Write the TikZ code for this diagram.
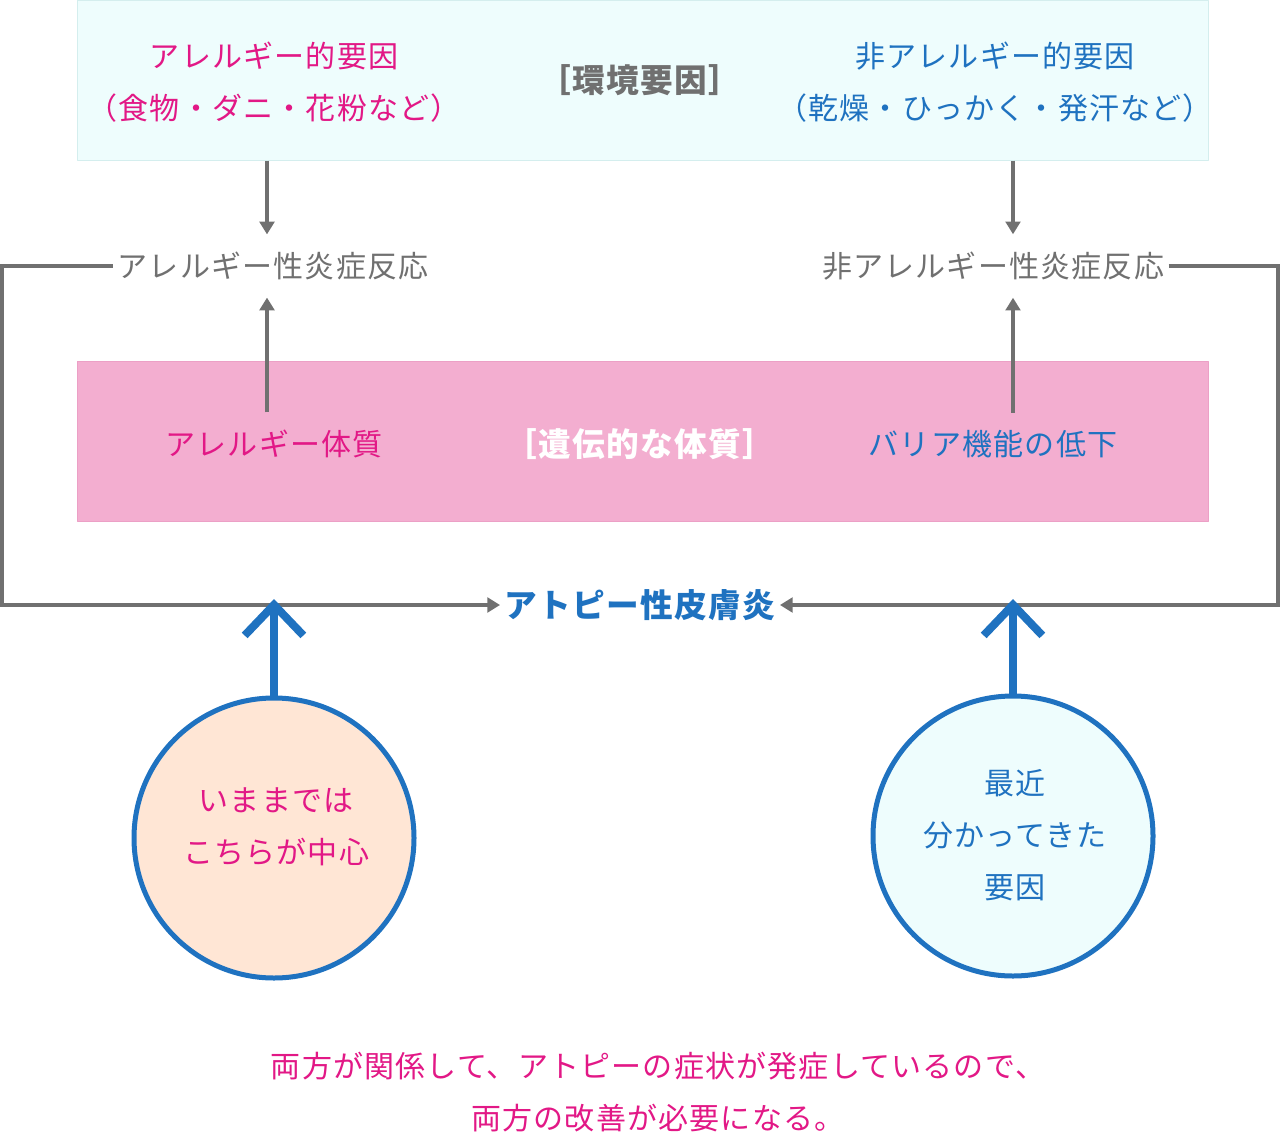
\documentclass[tikz,border=0pt]{standalone}
\usepackage{fontspec}
\setmainfont{Noto Sans CJK JP}[LetterSpace=4]
\usetikzlibrary{arrows.meta}

\definecolor{pinkT}{RGB}{226,24,134}
\definecolor{blueT}{RGB}{31,114,192}
\definecolor{grayT}{RGB}{112,112,112}
\definecolor{pinkbox}{RGB}{243,174,208}
\definecolor{pinkline}{RGB}{236,160,198}
\definecolor{cyanbox}{RGB}{238,253,253}
\definecolor{cyanline}{RGB}{212,238,238}
\definecolor{peach}{RGB}{255,230,213}

\newcommand\normtxt{\fontsize{22.5}{39}\selectfont}
\newcommand\boldtxt{\fontsize{24.5}{30}\selectfont\bfseries}

\begin{document}
\begin{tikzpicture}[
		x=0.75pt, y=-0.75pt,
		line join=round,
		font=\normtxt,
		band/.style={anchor=north west, minimum width=848.25pt, minimum height=120pt, inner sep=0pt},
		midtxt/.style={text=grayT, inner ysep=13pt},
		grayarr/.style={draw=grayT, line width=2.3pt, -{Triangle[length=9.5pt,width=11pt]}},
		bluearr/.style={draw=blueT, line width=6pt, -{Straight Barb[sharp,length=23pt,width=44pt]}},
		circ/.style={circle, draw=blueT, line width=3.75pt, minimum size=210pt, inner sep=0pt}
		]
		
		\useasboundingbox (0,0) rectangle (1280,1137);
		
		% Khung môi trường
		\node[band, fill=cyanbox, draw=cyanline] (envbox) at (77,0) {};
		\node[text=pinkT, align=center] (allergyfac) at (274,82) {アレルギー的要因\\（食物・ダニ・花粉など）};
		\node[text=grayT, font=\boldtxt] (env) at (640,80) {［環境要因］};
		\node[text=blueT, align=center] (nonallergyfac) at (995,82) {非アレルギー的要因\\（乾燥・ひっかく・発汗など）};
		
		% Phản ứng viêm
		\node[midtxt] (allergyinf) at (273,266) {アレルギー性炎症反応};
		\node[midtxt] (nonallergyinf) at (993,266) {非アレルギー性炎症反応};
		
		% Khung di truyền
		\node[band, fill=pinkbox, draw=pinkline] (genebox) at (77,361) {};
		\node[midtxt, text=pinkT] (allergybody) at (274,444) {アレルギー体質};
		\node[text=white, font=\boldtxt] (gene) at (640,444) {［遺伝的な体質］};
		\node[midtxt, text=blueT] (barrier) at (993,444) {バリア機能の低下};
		
		% Bệnh
		\node[text=blueT, font=\boldtxt] (atopy) at (640,605) {アトピー性皮膚炎};
		
		% Hai vòng tròn
		\node[circ, fill=peach] (oldc) at (274,838) {};
		\node[text=pinkT, align=center] (oldtxt) at (276,827) {いままでは\\こちらが中心};
		\node[circ, fill=cyanbox] (newc) at (1013,836) {};
		\node[text=blueT, align=center] (newtxt) at (1015,835) {最近\\分かってきた\\要因};
		
		% Kết luận
		\node[text=pinkT, align=center] (summary) at (658,1092) {両方が関係して、アトピーの症状が発症しているので、\\両方の改善が必要になる。};
		
		% Các cột
		\coordinate (colL) at (267,0);
		\coordinate (colR) at (1013,0);
		\coordinate (loopL) at (2,0);
		\coordinate (loopR) at (1278,0);
		\coordinate (tipline) at (0,599);
		
		% Mũi tên xám
		\draw[grayarr] (envbox.south -| colL) -- (allergyinf.north -| colL);
		\draw[grayarr] (envbox.south -| colR) -- (nonallergyinf.north -| colR);
		\draw[grayarr] (allergybody.north -| colL) -- (allergyinf.south -| colL);
		\draw[grayarr] (barrier.north -| colR) -- (nonallergyinf.south -| colR);
		
		% Đường vòng
		\draw[grayarr, line join=miter] (allergyinf.west) -- (allergyinf.west -| loopL) |- (atopy.west);
		\draw[grayarr, line join=miter] (nonallergyinf.east) -- (nonallergyinf.east -| loopR) |- (atopy.east);
		
		% Mũi tên xanh
		\draw[bluearr] (oldc.north) -- (oldc.north |- tipline);
		\draw[bluearr] (newc.north) -- (newc.north |- tipline);
		
	\end{tikzpicture}
\end{document}
